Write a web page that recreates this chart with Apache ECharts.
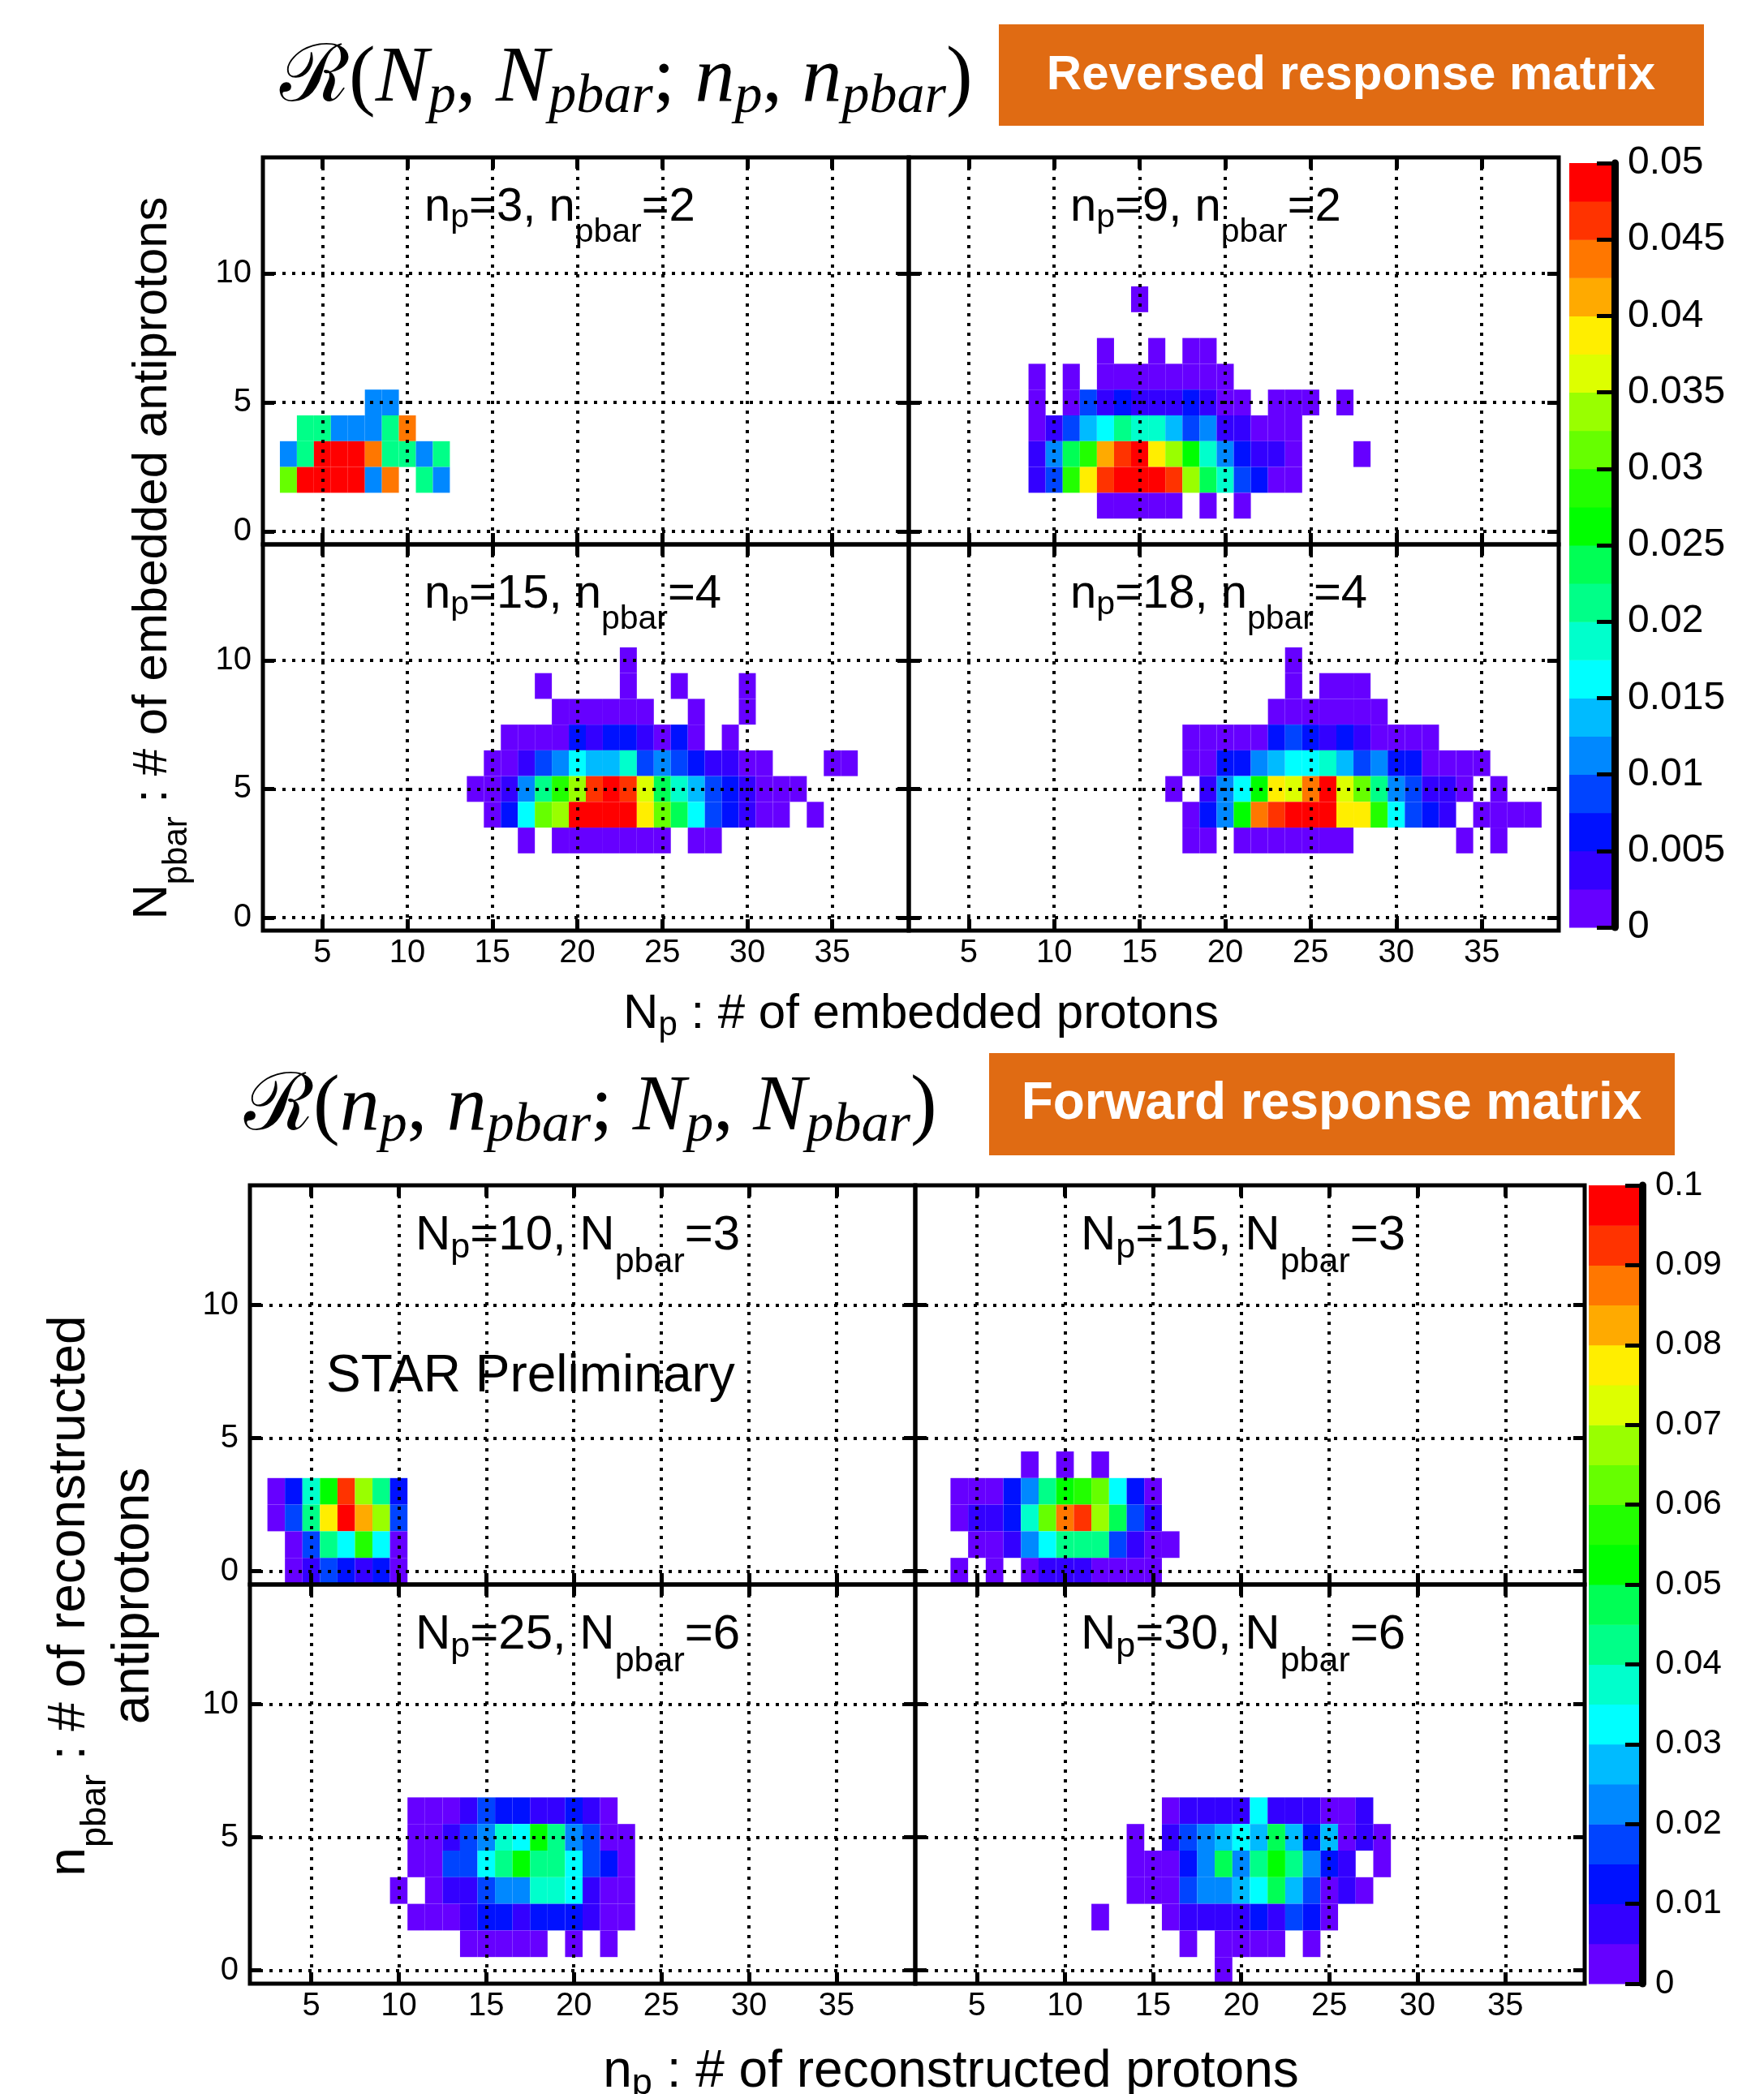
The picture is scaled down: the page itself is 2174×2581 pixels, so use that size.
<!DOCTYPE html>
<html><head><meta charset="utf-8">
<script src="https://cdn.jsdelivr.net/npm/echarts@6/dist/echarts.min.js"></script>
<style>html,body{margin:0;padding:0;background:#fff}#c{width:2174px;height:2581px}</style>
</head><body><div id="c"></div>
<script>
// ---------- colour scale (20 discrete levels, low -> high) ----------
const palette = ['#6600ff','#3300ff','#0011ff','#0044ff','#0088ff','#00bbff','#00ffff','#00ffcc','#00ff88','#00ff55',
                 '#00ff00','#22ff00','#66ff00','#99ff00','#ddff00','#ffee00','#ffaa00','#ff7700','#ff3300','#ff0000'];
const revMax = 0.05;   // reversed response colour-bar range
const fwdMax = 0.1;    // forward response colour-bar range
const xTickValues = [5, 10, 15, 20, 25, 30, 35];
const yTickValues = [0, 5, 10];

// ---------- data: rows of [y bin, first x bin, [values...]] (null = empty bin) ----------
// Reversed response matrix R(Np, Npbar; np, npbar): x = Np, y = Npbar
const rev_np3_npbar2 = [
  [5, 8, [0.011, 0.011]],
  [4, 4, [0.021, 0.021, 0.011, 0.011, 0.011, 0.021, 0.044]],
  [3, 3, [0.011, 0.021, 0.05, 0.05, 0.05, 0.044, 0.021, 0.021, 0.011, 0.021]],
  [2, 3, [0.031, 0.05, 0.05, 0.05, 0.05, 0.011, 0.044, null, 0.021, 0.011]]
];
const rev_np9_npbar2 = [
  [9, 15, [0.001]],
  [7, 13, [0.001, null, null, 0.001, null, 0.001, 0.001]],
  [6, 9, [0.001, null, 0.001, null, 0.001, 0.001, 0.001, 0.001, 0.001, 0.001, 0.001, 0.001]],
  [5, 9, [0.001, null, 0.001, 0.009, 0.004, 0.006, 0.004, 0.004, 0.004, 0.006, 0.004, 0.001, 0.001, null, 0.001, 0.001, 0.001, null, 0.001]],
  [4, 9, [0.001, 0.004, 0.009, 0.014, 0.016, 0.021, 0.019, 0.019, 0.014, 0.009, 0.011, 0.004, 0.004, 0.001, 0.001, 0.001]],
  [3, 9, [0.004, 0.011, 0.023, 0.029, 0.041, 0.046, 0.049, 0.039, 0.034, 0.026, 0.019, 0.011, 0.006, 0.004, 0.004, 0.001, null, null, null, 0.001]],
  [2, 9, [0.004, 0.009, 0.029, 0.039, 0.046, 0.049, 0.049, 0.049, 0.046, 0.034, 0.024, 0.019, 0.009, 0.006, 0.001, 0.001]],
  [1, 13, [0.001, 0.001, 0.001, 0.001, 0.001, null, 0.001, null, 0.001]]
];
const rev_np15_npbar4 = [
  [10, 23, [0.001]],
  [9, 18, [0.001, null, null, null, null, 0.001, null, null, 0.001, null, null, null, 0.001]],
  [8, 19, [0.001, 0.001, 0.001, 0.001, 0.001, 0.001, null, null, 0.001, null, null, 0.001]],
  [7, 16, [0.001, 0.001, 0.001, 0.001, 0.006, 0.004, 0.006, 0.006, 0.004, 0.001, 0.006, 0.001, null, 0.001]],
  [6, 15, [0.001, 0.001, 0.004, 0.009, 0.011, 0.016, 0.014, 0.014, 0.019, 0.009, 0.011, 0.009, 0.006, 0.004, 0.004, 0.001, 0.001, null, null, null, 0.001, 0.001]],
  [5, 14, [0.001, 0.001, 0.004, 0.011, 0.021, 0.029, 0.034, 0.046, 0.049, 0.046, 0.036, 0.024, 0.019, 0.014, 0.009, 0.006, 0.004, 0.001, 0.001, 0.001]],
  [4, 15, [0.001, 0.006, 0.016, 0.031, 0.034, 0.049, 0.049, 0.049, 0.049, 0.039, 0.031, 0.024, 0.016, 0.009, 0.006, 0.004, 0.001, 0.001, null, 0.001]],
  [3, 17, [0.001, null, 0.001, 0.001, 0.001, 0.001, 0.001, 0.001, 0.001, null, 0.001, 0.001]]
];
const rev_np18_npbar4 = [
  [10, 24, [0.001]],
  [9, 24, [0.001, null, 0.001, 0.001, 0.001]],
  [8, 23, [0.001, 0.001, 0.001, 0.001, 0.001, 0.001, 0.001]],
  [7, 18, [0.001, 0.001, 0.001, 0.001, 0.001, 0.006, 0.009, 0.006, 0.004, 0.006, 0.004, 0.001, 0.001, 0.001, 0.001]],
  [6, 18, [0.001, 0.001, 0.006, 0.006, 0.011, 0.014, 0.016, 0.016, 0.019, 0.014, 0.009, 0.011, 0.006, 0.006, 0.001, 0.001, 0.001, 0.001]],
  [5, 17, [0.001, null, 0.004, 0.011, 0.016, 0.026, 0.039, 0.036, 0.044, 0.049, 0.036, 0.031, 0.021, 0.011, 0.009, 0.004, 0.004, 0.001, null, 0.001]],
  [4, 18, [0.001, 0.006, 0.011, 0.026, 0.044, 0.046, 0.049, 0.049, 0.049, 0.039, 0.039, 0.029, 0.016, 0.009, 0.006, 0.004, null, 0.001, 0.001, 0.001, 0.001]],
  [3, 18, [0.001, 0.001, null, 0.001, 0.001, 0.001, 0.001, 0.001, 0.001, 0.001, null, null, null, null, null, null, 0.001, null, 0.001]]
];
// Forward response matrix R(np, npbar; Np, Npbar): x = np, y = npbar
const fwd_Np10_Npbar3 = [
  [3, 3, [0.002, 0.012, 0.037, 0.052, 0.092, 0.067, 0.042, 0.012]],
  [2, 3, [0.002, 0.017, 0.042, 0.077, 0.097, 0.082, 0.067, 0.017]],
  [1, 4, [0.002, 0.017, 0.042, 0.032, 0.057, 0.032, 0.002]],
  [0, 4, [0.002, 0.007, 0.017, 0.012, 0.007, 0.012, 0.002]]
];
const fwd_Np15_Npbar3 = [
  [4, 8, [0.002, null, 0.002, null, 0.002]],
  [3, 4, [0.002, 0.002, 0.002, 0.012, 0.022, 0.042, 0.052, 0.057, 0.062, 0.032, 0.012, 0.002]],
  [2, 4, [0.002, 0.007, 0.007, 0.012, 0.037, 0.062, 0.087, 0.092, 0.067, 0.047, 0.017, 0.007]],
  [1, 5, [0.002, 0.002, 0.007, 0.022, 0.032, 0.042, 0.042, 0.042, 0.017, 0.007, 0.002, 0.002]],
  [0, 4, [0.002, null, 0.002, null, 0.002, 0.007, 0.007, 0.007, 0.002, 0.002, 0.002, 0.002]]
];
const fwd_Np25_Npbar6 = [
  [6, 11, [0.002, 0.002, 0.002, 0.007, 0.017, 0.012, 0.012, 0.007, 0.007, 0.012, 0.007, 0.002]],
  [5, 11, [0.002, 0.002, 0.007, 0.017, 0.022, 0.037, 0.032, 0.052, 0.042, 0.022, 0.017, 0.002, 0.002]],
  [4, 11, [0.002, 0.002, 0.017, 0.017, 0.032, 0.042, 0.052, 0.042, 0.042, 0.032, 0.017, 0.012, 0.002]],
  [3, 10, [0.002, null, 0.002, 0.007, 0.007, 0.017, 0.022, 0.022, 0.037, 0.037, 0.032, 0.007, 0.002, 0.002]],
  [2, 11, [0.002, 0.002, 0.002, 0.007, 0.012, 0.012, 0.007, 0.012, 0.012, 0.012, 0.007, 0.002, 0.002]],
  [1, 14, [0.002, 0.002, 0.002, 0.002, 0.002, null, 0.002, null, 0.002]]
];
const fwd_Np30_Npbar6 = [
  [6, 16, [0.002, 0.007, 0.007, 0.007, 0.007, 0.032, 0.007, 0.007, 0.007, 0.002, 0.002, 0.007]],
  [5, 14, [0.002, null, 0.007, 0.017, 0.022, 0.027, 0.032, 0.027, 0.047, 0.027, 0.012, 0.027, 0.002, 0.007, 0.002]],
  [4, 14, [0.002, 0.002, 0.002, 0.012, 0.022, 0.047, 0.022, 0.042, 0.052, 0.042, 0.022, 0.012, 0.007, null, 0.002]],
  [3, 14, [0.002, 0.002, 0.002, 0.017, 0.022, 0.022, 0.027, 0.032, 0.047, 0.027, 0.017, 0.002, 0.007, 0.002]],
  [2, 12, [0.002, null, null, null, 0.002, 0.007, 0.007, 0.007, 0.007, 0.012, 0.007, 0.017, 0.012, 0.002]],
  [1, 17, [0.002, null, 0.002, 0.002, 0.002, 0.002, null, 0.002]],
  [0, 19, [0.002]]
];

// ---------- helpers ----------
const SANS = '"Liberation Sans", Arial, Helvetica, sans-serif';
const SERIF = '"Liberation Serif", "DejaVu Serif", serif';

function toCells(rows) {
  const out = [];
  rows.forEach(function (r) {
    r[2].forEach(function (v, i) { if (v != null) out.push([r[1] + i, r[0], v]); });
  });
  return out;
}
function levelColor(v, maxVal) {
  let idx = Math.floor(v / (maxVal / palette.length));
  idx = Math.max(0, Math.min(palette.length - 1, idx));
  return palette[idx];
}
function cellRenderer(maxVal) {
  return function (params, api) {
    const x = api.value(0), y = api.value(1), v = api.value(2);
    const p0 = api.coord([x - 0.5, y + 0.5]);
    const p1 = api.coord([x + 0.5, y - 0.5]);
    return { type: 'rect', shape: { x: p0[0], y: p0[1], width: p1[0] - p0[0], height: p1[1] - p0[1] },
             style: { fill: levelColor(v, maxVal) } };
  };
}
function barRenderer(maxVal) {
  const step = maxVal / palette.length;
  return function (params, api) {
    const i = api.value(2);
    const p0 = api.coord([0, (i + 1) * step]);
    const p1 = api.coord([1, i * step]);
    return { type: 'rect', shape: { x: p0[0], y: p0[1], width: p1[0] - p0[0], height: p1[1] - p0[1] + 0.5 },
             style: { fill: palette[i] } };
  };
}

// ---------- layout ----------
const panels = [
  { rows: rev_np3_npbar2,  max: revMax, rect: [324, 194, 796, 477], showX: false, showY: true,  lab: '{m|n}{p|p}{m|=3, n}{b|pbar}{m|=2}', blk: 'rev' },
  { rows: rev_np9_npbar2,  max: revMax, rect: [1120, 194, 801, 477], showX: false, showY: false, lab: '{m|n}{p|p}{m|=9, n}{b|pbar}{m|=2}', blk: 'rev' },
  { rows: rev_np15_npbar4, max: revMax, rect: [324, 671, 796, 476], showX: true,  showY: true,  lab: '{m|n}{p|p}{m|=15, n}{b|pbar}{m|=4}', blk: 'rev' },
  { rows: rev_np18_npbar4, max: revMax, rect: [1120, 671, 801, 476], showX: true,  showY: false, lab: '{m|n}{p|p}{m|=18, n}{b|pbar}{m|=4}', blk: 'rev' },
  { rows: fwd_Np10_Npbar3, max: fwdMax, rect: [308, 1461, 820, 492], showX: false, showY: true,  lab: '{m|N}{p|p}{m|=10, N}{b|pbar}{m|=3}', blk: 'fwd' },
  { rows: fwd_Np15_Npbar3, max: fwdMax, rect: [1128, 1461, 825, 492], showX: false, showY: false, lab: '{m|N}{p|p}{m|=15, N}{b|pbar}{m|=3}', blk: 'fwd' },
  { rows: fwd_Np25_Npbar6, max: fwdMax, rect: [308, 1953, 820, 492], showX: true,  showY: true,  lab: '{m|N}{p|p}{m|=25, N}{b|pbar}{m|=6}', blk: 'fwd' },
  { rows: fwd_Np30_Npbar6, max: fwdMax, rect: [1128, 1953, 825, 492], showX: true,  showY: false, lab: '{m|N}{p|p}{m|=30, N}{b|pbar}{m|=6}', blk: 'fwd' }
];

const richRev = {
  m: { fontSize: 58, lineHeight: 58, fontFamily: SANS, fill: '#000' },
  p: { fontSize: 41, lineHeight: 58, fontFamily: SANS, padding: [26, 0, 0, 0], fill: '#000' },
  b: { fontSize: 41, lineHeight: 58, fontFamily: SANS, padding: [62, 0, 0, 0], fill: '#000' }
};
const richFwd = {
  m: { fontSize: 60, lineHeight: 60, fontFamily: SANS, fill: '#000' },
  p: { fontSize: 43, lineHeight: 60, fontFamily: SANS, padding: [30, 0, 0, 0], fill: '#000' },
  b: { fontSize: 43, lineHeight: 60, fontFamily: SANS, padding: [66, 0, 0, 0], fill: '#000' }
};
const richTitleTop = {
  m: { fontSize: 60, lineHeight: 60, fontFamily: SANS, fill: '#000' },
  p: { fontSize: 42, lineHeight: 60, fontFamily: SANS, padding: [28, 0, 0, 0], fill: '#000' },
  b: { fontSize: 42, lineHeight: 60, fontFamily: SANS, padding: [60, 0, 0, 0], fill: '#000' }
};
const richTitleBot = {
  m: { fontSize: 64, lineHeight: 64, fontFamily: SANS, fill: '#000' },
  p: { fontSize: 45, lineHeight: 64, fontFamily: SANS, padding: [30, 0, 0, 0], fill: '#000' },
  b: { fontSize: 45, lineHeight: 64, fontFamily: SANS, padding: [64, 0, 0, 0], fill: '#000' }
};
const richMath = {
  r: { fontSize: 98, lineHeight: 98, fontFamily: SERIF, fill: '#000' },
  i: { fontSize: 98, lineHeight: 98, fontFamily: SERIF, fontStyle: 'italic', fill: '#000' },
  s: { fontSize: 68, lineHeight: 98, fontFamily: SERIF, fontStyle: 'italic', padding: [44, 0, 0, 0], fill: '#000' }
};

const option = {
  backgroundColor: '#ffffff',
  animation: false,
  textStyle: { fontFamily: SANS },
  grid: [], xAxis: [], yAxis: [], series: [], graphic: []
};

const tickStyle = { show: true, inside: true, length: 14, lineStyle: { color: '#000', width: 5 } };
const dotted = { show: true, lineStyle: { color: '#000', width: 4, type: [4, 8] } };

panels.forEach(function (pn, i) {
  const r = pn.rect;
  option.grid.push({ left: r[0], top: r[1], width: r[2], height: r[3], show: true,
    borderColor: '#000', borderWidth: 5, backgroundColor: 'transparent', z: 6 });
  option.xAxis.push({ type: 'value', gridIndex: i, min: 1.5, max: 39.5, position: 'bottom', z: 5,
    axisLine: { show: false, onZero: false },
    axisTick: Object.assign({ customValues: xTickValues }, tickStyle),
    axisLabel: { show: pn.showX, customValues: xTickValues, fontSize: 40, color: '#000', margin: 8, fontFamily: SANS },
    splitLine: dotted });
  option.xAxis.push({ type: 'value', gridIndex: i, min: 1.5, max: 39.5, position: 'top', z: 5,
    axisLine: { show: false, onZero: false },
    axisTick: Object.assign({ customValues: xTickValues }, tickStyle),
    axisLabel: { show: false }, splitLine: { show: false } });
  option.yAxis.push({ type: 'value', gridIndex: i, min: -0.5, max: 14.5, position: 'left', z: 5,
    axisLine: { show: false, onZero: false },
    axisTick: Object.assign({ customValues: yTickValues }, tickStyle),
    axisLabel: { show: pn.showY, customValues: yTickValues, fontSize: 40, color: '#000', margin: 14, fontFamily: SANS },
    splitLine: dotted });
  option.yAxis.push({ type: 'value', gridIndex: i, min: -0.5, max: 14.5, position: 'right', z: 5,
    axisLine: { show: false, onZero: false },
    axisTick: Object.assign({ customValues: yTickValues }, tickStyle),
    axisLabel: { show: false }, splitLine: { show: false } });
  option.series.push({ type: 'custom', xAxisIndex: 2 * i, yAxisIndex: 2 * i, z: 2, clip: true,
    renderItem: cellRenderer(pn.max), data: toCells(pn.rows) });

  const fwd = pn.blk === 'fwd';
  option.graphic.push({ type: 'text', z: 100,
    x: r[0] + (fwd ? 204 : 199), y: r[1] + (fwd ? 32 : 33),
    style: { text: pn.lab, rich: fwd ? richFwd : richRev, align: 'left', verticalAlign: 'top' } });
});

// ---------- colour bars ----------
const colorBars = [
  { max: revMax, rect: [1934, 201, 56, 942], font: 48, tickLen: 22 },
  { max: fwdMax, rect: [1958, 1461, 66, 984], font: 42, tickLen: 21 }
];
colorBars.forEach(function (cb) {
  const gi = option.grid.length;
  const r = cb.rect;
  const step = cb.max / palette.length;
  option.grid.push({ left: r[0], top: r[1], width: r[2], height: r[3], show: false });
  option.xAxis.push({ type: 'value', gridIndex: gi, min: 0, max: 1, show: false });
  option.yAxis.push({ type: 'value', gridIndex: gi, min: 0, max: cb.max, interval: cb.max / 10, position: 'right', z: 5,
    axisLine: { show: true, onZero: false, lineStyle: { color: '#000', width: 9 } },
    axisTick: { show: true, inside: true, length: cb.tickLen, lineStyle: { color: '#000', width: 5 } },
    axisLabel: { show: true, fontSize: cb.font, color: '#000', margin: 16, fontFamily: SANS },
    splitLine: { show: false } });
  option.series.push({ type: 'custom', xAxisIndex: option.xAxis.length - 1, yAxisIndex: option.yAxis.length - 1, z: 2,
    renderItem: barRenderer(cb.max),
    data: palette.map(function (c, i) { return [0.5, (i + 0.5) * step, i]; }) });
});

// ---------- titles, boxes, axis titles ----------
option.graphic.push(
  { type: 'text', z: 100, x: 345, y: 98,
    style: { text: '{r|ℛ(}{i|N}{s|p}{r|, }{i|N}{s|pbar}{r|; }{i|n}{s|p}{r|, }{i|n}{s|pbar}{r|)}', rich: richMath, align: 'left', verticalAlign: 'middle' } },
  { type: 'rect', z: 90, shape: { x: 1231, y: 30, width: 869, height: 125 }, style: { fill: '#e06b13' } },
  { type: 'text', z: 100, x: 1665, y: 93,
    style: { text: 'Reversed response matrix', fill: '#fff', fontSize: 60, fontWeight: 'bold', fontFamily: SANS, align: 'center', verticalAlign: 'middle' } },
  { type: 'text', z: 100, x: 301, y: 1366,
    style: { text: '{r|ℛ(}{i|n}{s|p}{r|, }{i|n}{s|pbar}{r|; }{i|N}{s|p}{r|, }{i|N}{s|pbar}{r|)}', rich: richMath, align: 'left', verticalAlign: 'middle' } },
  { type: 'rect', z: 90, shape: { x: 1219, y: 1298, width: 845, height: 126 }, style: { fill: '#e06b13' } },
  { type: 'text', z: 100, x: 1641, y: 1361,
    style: { text: 'Forward response matrix', fill: '#fff', fontSize: 64, fontWeight: 'bold', fontFamily: SANS, align: 'center', verticalAlign: 'middle' } },
  { type: 'text', z: 100, x: 1135, y: 1250,
    style: { text: '{m|N}{p|p}{m| : # of embedded protons}', rich: richTitleTop, align: 'center', verticalAlign: 'middle' } },
  { type: 'text', z: 100, x: 188, y: 688, rotation: Math.PI / 2,
    style: { text: '{m|N}{b|pbar}{m| : # of embedded antiprotons}', rich: richTitleTop, align: 'center', verticalAlign: 'middle' } },
  { type: 'text', z: 100, x: 1172, y: 2554,
    style: { text: '{m|n}{p|p}{m| : # of reconstructed protons}', rich: richTitleBot, align: 'center', verticalAlign: 'middle' } },
  { type: 'text', z: 100, x: 86, y: 1967, rotation: Math.PI / 2,
    style: { text: '{m|n}{b|pbar}{m| : # of reconstructed}', rich: richTitleBot, align: 'center', verticalAlign: 'middle' } },
  { type: 'text', z: 100, x: 165, y: 1967, rotation: Math.PI / 2,
    style: { text: '{m|antiprotons}', rich: richTitleBot, align: 'center', verticalAlign: 'middle' } },
  { type: 'text', z: 100, x: 402, y: 1697,
    style: { text: 'STAR Preliminary', fill: '#000', fontSize: 64, fontFamily: SANS, align: 'left', verticalAlign: 'middle' } }
);

const chart = echarts.init(document.getElementById('c'), null, { renderer: 'canvas' });
chart.setOption(option);
</script>
</body></html>
